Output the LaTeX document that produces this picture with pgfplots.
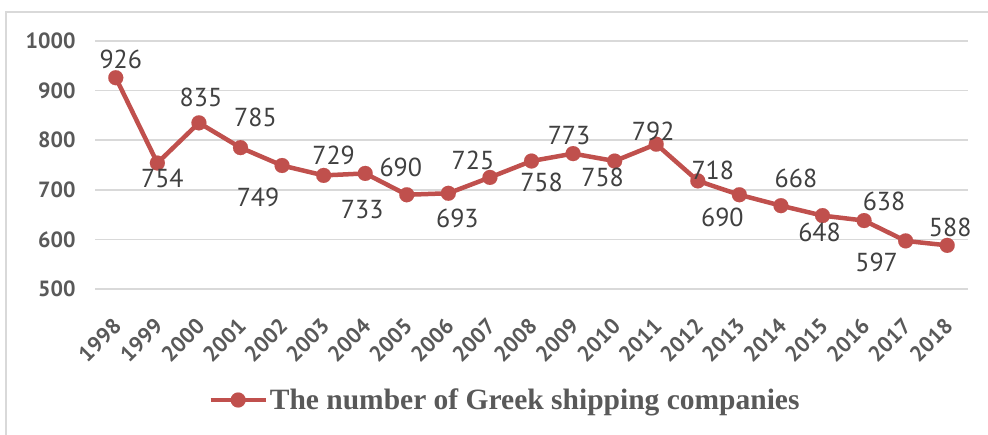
\documentclass[border=0pt]{standalone}
\usepackage{pgfplots}
\pgfplotsset{compat=1.18}
\usepackage{pgfplotstable}
\usepackage{fontspec}
\setmainfont{PT Sans}
\newfontfamily\timesfont{Liberation Serif}
\definecolor{lred}{HTML}{C0504D}
\definecolor{gridc}{HTML}{D9D9D9}
\definecolor{tickc}{HTML}{595959}
\definecolor{labc}{HTML}{404040}
\pgfplotstableread{
x y dx dy
0 926 5 18
1 754 5 -15
2 835 2 25
3 785 15 30
4 749 -24 -32
5 729 10 20
6 733 -3 -36
7 690 -6 27
8 693 9 -25
9 725 -17 17
10 758 10 -21
11 773 -4 18
12 758 -12 -16
13 792 -3 13
14 718 15 10
15 690 -17 -23
16 668 15 27
17 648 -3 -17
18 638 20 19
19 597 -29 -22
20 588 3 18
}\datatable
\begin{document}
\begin{tikzpicture}
\useasboundingbox (0,0) rectangle (988bp,-435bp);
\draw[gridc, line width=1.5bp] (6bp,-445bp) -- (6bp,-12bp) -- (998bp,-12bp);
\begin{axis}[
  at={(95bp,-289bp)}, anchor=south west,
  scale only axis, width=873bp, height=248bp,
  xmin=-0.5, xmax=20.5, ymin=500, ymax=1000,
  ytick={500,600,...,1000},
  xtick={0,...,20},
  xticklabels={1998,1999,2000,2001,2002,2003,2004,2005,2006,2007,2008,2009,2010,2011,2012,2013,2014,2015,2016,2017,2018},
  axis line style={draw=none},
  major tick length=0pt,
  ymajorgrids, grid style={gridc, line width=1.5bp},
  clip=false,
  /pgf/number format/assume math mode=true,
  /pgf/number format/1000 sep={},
  tick label style={font=\fontsize{22bp}{26bp}\selectfont\bfseries, text=tickc},
  yticklabel style={xshift=-16bp},
  xticklabel style={xshift=4bp, yshift=-31bp, rotate=45, anchor=east},
  legend style={draw=none, fill=none, at={(0.4696,-0.4476)}, anchor=center,
    font=\timesfont\bfseries\fontsize{29.5bp}{34bp}\selectfont, text=tickc,
    nodes={inner sep=2bp}},
  legend image code/.code={\draw[mark repeat=2, mark phase=2] plot coordinates {(0bp,0bp) (27.5bp,0bp) (55bp,0bp)};},
]
\addplot[lred, line width=4.5bp, mark=*, mark size=7.5bp,
  mark options={fill=lred, draw=lred, line width=0.1bp},
  nodes near coords, point meta=explicit,
  visualization depends on={\thisrow{dx} \as \dx},
  visualization depends on={\thisrow{dy} \as \dy},
  nodes near coords style={anchor=center, xshift=\dx bp, yshift=\dy bp,
    font=\fontsize{26bp}{30bp}\selectfont, text=labc}
] table[x=x, y=y, meta=y] {\datatable};
\addlegendentry{The number of Greek shipping companies}
\end{axis}
\end{tikzpicture}
\end{document}
